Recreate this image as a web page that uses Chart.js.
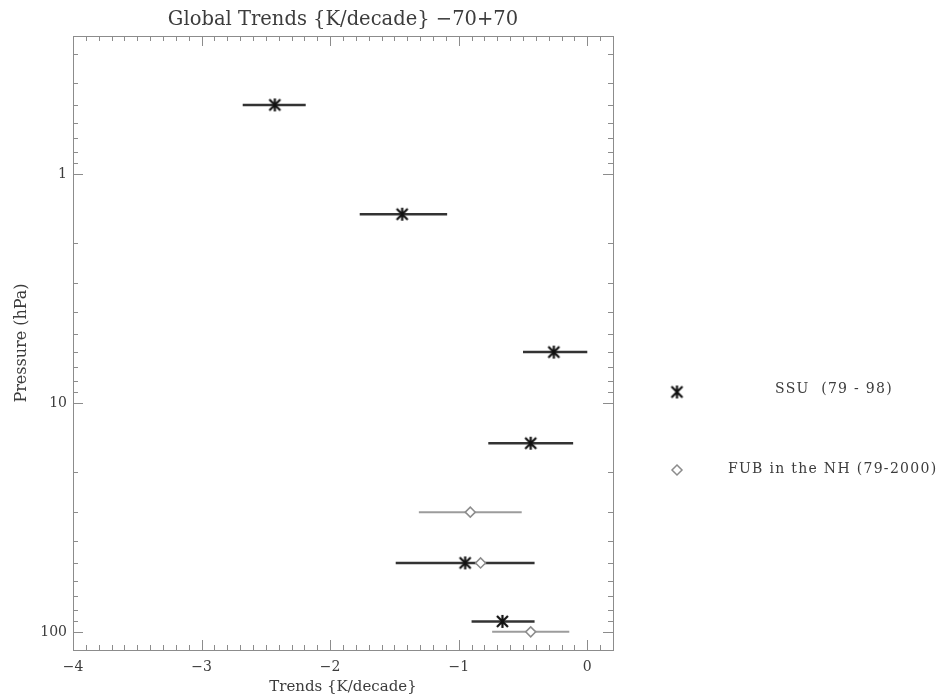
<!DOCTYPE html>
<html>
<head>
<meta charset="utf-8">
<title>Global Trends {K/decade} -70+70</title>
<script src="https://cdn.jsdelivr.net/npm/chart.js@4.4.1/dist/chart.umd.min.js"></script>
<style>
  html, body { margin: 0; padding: 0; background: #fff; }
  #wrap { width: 942px; height: 696px; position: relative; }
</style>
</head>
<body>
<div id="wrap"><canvas id="trends"></canvas></div>
<script>
// SSU (79 - 98): trend and its range at each pressure level
const ssuPressure = [0.5, 1.5, 6, 15, 50, 90];
const ssuTrend = [-2.43, -1.44, -0.26, -0.44, -0.95, -0.66];
const ssuLow = [-2.68, -1.77, -0.50, -0.77, -1.49, -0.90];
const ssuHigh = [-2.19, -1.09, 0.00, -0.11, -0.41, -0.41];

// FUB in the NH (79-2000)
const fubPressure = [30, 50, 100];
const fubTrend = [-0.91, -0.83, -0.44];
const fubLow = [-1.31, -1.25, -0.74];
const fubHigh = [-0.51, -0.42, -0.14];

// labelled ticks
const xTickLabels = [-4, -3, -2, -1, 0];
const yTickLabels = [1, 10, 100];

const ink = "#3c3c3c";
const frame = "#8c8c8c";
const serif = "'DejaVu Serif', 'Liberation Serif', serif";

// asterisk marker (x plus a vertical stroke)
function makeStar() {
  const c = document.createElement("canvas");
  c.width = 15;
  c.height = 15;
  const g = c.getContext("2d");
  g.strokeStyle = "#111";
  g.lineWidth = 2.2;
  g.beginPath();
  g.moveTo(7.5, 1); g.lineTo(7.5, 14);
  g.moveTo(2, 2); g.lineTo(13, 13);
  g.moveTo(13, 2); g.lineTo(2, 13);
  g.stroke();
  return c;
}
const star = makeStar();

const datasets = [];

// range bars
fubPressure.forEach(function (p, i) {
  datasets.push({
    data: [{ x: fubLow[i], y: p }, { x: fubHigh[i], y: p }],
    showLine: true,
    borderColor: "#9c9c9c",
    borderWidth: 2,
    pointRadius: 0,
    order: 4,
  });
});
ssuPressure.forEach(function (p, i) {
  datasets.push({
    data: [{ x: ssuLow[i], y: p }, { x: ssuHigh[i], y: p }],
    showLine: true,
    borderColor: "#333",
    borderWidth: 2.5,
    pointRadius: 0,
    order: 3,
  });
});

// markers
datasets.push({
  label: "FUB in the NH (79-2000)",
  data: fubPressure.map((p, i) => ({ x: fubTrend[i], y: p })),
  pointStyle: "rectRot",
  pointRadius: 5,
  borderWidth: 1.5,
  borderColor: "#8c8c8c",
  backgroundColor: "#fff",
  order: 2,
});
datasets.push({
  label: "SSU  (79 - 98)",
  data: ssuPressure.map((p, i) => ({ x: ssuTrend[i], y: p })),
  pointStyle: star,
  order: 1,
});

// IDL style frame with inward ticks on all four sides
const inwardTicks = {
  id: "inwardTicks",
  afterDatasetsDraw(chart) {
    const { ctx, chartArea: a } = chart;
    const x = chart.scales.x;
    const y = chart.scales.y;
    ctx.save();
    ctx.strokeStyle = frame;
    ctx.lineWidth = 1;
    ctx.beginPath();
    for (let k = -40; k <= 1; k++) {
      const px = Math.round(x.getPixelForValue(k / 10)) + 0.5;
      const len = k % 10 === 0 ? 10 : 5;
      ctx.moveTo(px, a.bottom); ctx.lineTo(px, a.bottom - len);
      ctx.moveTo(px, a.top); ctx.lineTo(px, a.top + len);
    }
    for (let e = -1; e <= 2; e++) {
      for (let m = 1; m <= 9; m++) {
        const v = m * Math.pow(10, e);
        if (v < y.min || v > y.max) continue;
        const py = Math.round(y.getPixelForValue(v)) + 0.5;
        const len = m === 1 ? 10 : 5;
        ctx.moveTo(a.left, py); ctx.lineTo(a.left + len, py);
        ctx.moveTo(a.right, py); ctx.lineTo(a.right - len, py);
      }
    }
    ctx.stroke();
    ctx.strokeRect(Math.round(a.left) + 0.5, Math.round(a.top) + 0.5,
      Math.round(a.right - a.left), Math.round(a.bottom - a.top));
    ctx.restore();
  },
};

// legend off to the right, as in the original plot
const sideLegend = {
  id: "sideLegend",
  afterDraw(chart) {
    const ctx = chart.ctx;
    ctx.save();
    ctx.drawImage(star, 677 - 7.5, 392 - 7.5);
    ctx.beginPath();
    ctx.moveTo(677, 465); ctx.lineTo(682, 470); ctx.lineTo(677, 475); ctx.lineTo(672, 470);
    ctx.closePath();
    ctx.strokeStyle = "#8c8c8c";
    ctx.lineWidth = 1.5;
    ctx.stroke();
    ctx.fillStyle = ink;
    ctx.font = "14px " + serif;
    ctx.letterSpacing = "1.3px";
    ctx.textBaseline = "middle";
    ctx.fillText(datasets[datasets.length - 1].label, 775, 389);
    ctx.fillText(datasets[datasets.length - 2].label, 728, 469);
    ctx.restore();
  },
};

new Chart(document.getElementById("trends"), {
  type: "scatter",
  data: { datasets: datasets },
  options: {
    responsive: true,
    maintainAspectRatio: false,
    animation: false,
    layout: { padding: { left: 0, right: 329, top: 0, bottom: 0 } },
    plugins: {
      legend: { display: false },
      tooltip: { enabled: false },
      title: {
        display: true,
        text: "Global Trends {K/decade} \u221270+70",
        fullSize: false,
        color: ink,
        font: { family: serif, size: 19.5, weight: "normal" },
        padding: { top: 8, bottom: 4.6 },
      },
    },
    scales: {
      x: {
        type: "linear",
        min: -4,
        max: 0.2,
        grid: { display: false, drawTicks: false },
        border: { display: false },
        ticks: {
          stepSize: 1,
          includeBounds: false,
          autoSkip: false,
          maxRotation: 0,
          padding: 9,
          color: ink,
          font: { family: serif, size: 14 },
          callback: function (v) {
            if (!xTickLabels.includes(v)) return "";
            return v < 0 ? "\u2212" + Math.abs(v) : String(v);
          },
        },
        title: {
          display: true,
          text: "Trends {K/decade}",
          color: ink,
          font: { family: serif, size: 15 },
          padding: { top: 0, bottom: 0 },
        },
        afterFit: function (s) { s.height = 46; },
      },
      y: {
        type: "logarithmic",
        reverse: true,
        min: 0.25,
        max: 120,
        grid: { display: false, drawTicks: false },
        border: { display: false },
        ticks: {
          autoSkip: false,
          padding: 6,
          color: ink,
          font: { family: serif, size: 14 },
          callback: function (v) {
            const hit = yTickLabels.find((t) => Math.abs(t - v) < 1e-6 * t);
            return hit ? String(hit) : "";
          },
        },
        title: {
          display: true,
          text: "Pressure (hPa)",
          color: ink,
          font: { family: serif, size: 16 },
          padding: { top: 12, bottom: 0 },
        },
        afterFit: function (s) { s.width = 73; },
      },
    },
  },
  plugins: [inwardTicks, sideLegend],
});
</script>
</body>
</html>
